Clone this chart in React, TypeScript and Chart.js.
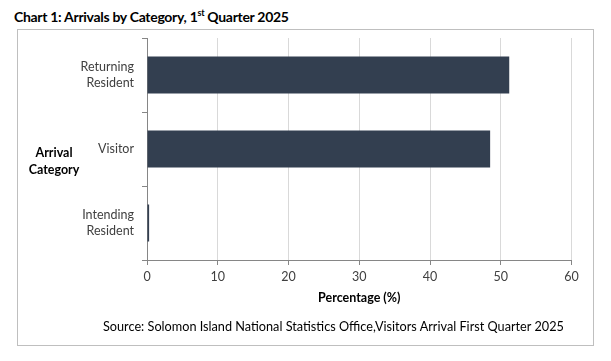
import React, { useEffect, useRef } from 'react';
import { Chart, registerables } from 'chart.js';
Chart.register(...registerables);

const categories: string[][] = [['Returning', 'Resident'], ['Visitor'], ['Intending', 'Resident']];
const percentages: number[] = [51.2, 48.5, 0.3];
const xTickValues: number[] = [0, 10, 20, 30, 40, 50, 60];

const FONT = 'Lato, "Noto Sans", sans-serif';
const AXIS = '#868686';

export default function App() {
  const ref = useRef<HTMLCanvasElement>(null);
  useEffect(() => {
    const chart = new Chart(ref.current!, {
      type: 'bar',
      data: {
        labels: categories,
        datasets: [{
          data: percentages,
          backgroundColor: '#333f50',
          borderWidth: 0,
          categoryPercentage: 1,
          barPercentage: 0.5,
        }],
      },
      options: {
        indexAxis: 'y',
        animation: false,
        responsive: true,
        maintainAspectRatio: false,
        layout: { padding: { left: 0, right: 39.5, top: 38, bottom: 56 } },
        plugins: { legend: { display: false }, tooltip: { enabled: false }, title: { display: false } },
        scales: {
          x: {
            min: xTickValues[0],
            max: xTickValues[xTickValues.length - 1],
            ticks: { stepSize: xTickValues[1] - xTickValues[0], color: '#404040', font: { family: FONT, size: 12.5 }, padding: 4 },
            grid: { color: '#d9d9d9', tickColor: AXIS, tickLength: 5 },
            border: { color: AXIS },
            title: { display: true, text: 'Percentage (%)', color: '#000', font: { family: FONT, size: 12.5, weight: 'bold' }, padding: { top: 0, bottom: 0 } },
            afterFit: (s: any) => { s.height = 45; },
          },
          y: {
            ticks: { color: '#404040', font: { family: FONT, size: 12.5, lineHeight: 1.28 }, padding: 8 },
            grid: { offset: true, drawOnChartArea: false, tickLength: 5, color: AXIS },
            border: { color: AXIS },
            afterFit: (s: any) => { s.width = 147; },
          },
        },
      },
    });
    return () => chart.destroy();
  }, []);
  return (
    <div style={{ position: 'fixed', left: 0, top: 0, width: 611, height: 361, background: '#fff', fontFamily: FONT }}>
      <div style={{ position: 'absolute', left: 14, top: 7, fontSize: 14, fontWeight: 700, color: '#000', whiteSpace: 'nowrap', lineHeight: '20px', letterSpacing: '-0.3px' }}>
        Chart 1: Arrivals by Category, 1<sup style={{ fontSize: 9, verticalAlign: 'top', lineHeight: '12px' }}>st</sup> Quarter 2025
      </div>
      <div style={{ position: 'absolute', left: 17, top: 29, width: 577, height: 317, border: '1px solid #bfbfbf', boxSizing: 'border-box' }} />
      <div style={{ position: 'absolute', left: 0, top: 0, width: 611, height: 361 }}>
        <canvas ref={ref} />
      </div>
      <div style={{ position: 'absolute', left: 14, width: 80, top: 145, fontSize: 12.5, fontWeight: 700, color: '#000', lineHeight: '16.5px', textAlign: 'center' }}>
        Arrival<br />Category
      </div>
      <div style={{ position: 'absolute', left: 103, top: 317, fontSize: 12.7, color: '#000', whiteSpace: 'nowrap', lineHeight: '18px' }}>
        Source: Solomon Island National Statistics Office,Visitors Arrival First Quarter 2025
      </div>
    </div>
  );
}
